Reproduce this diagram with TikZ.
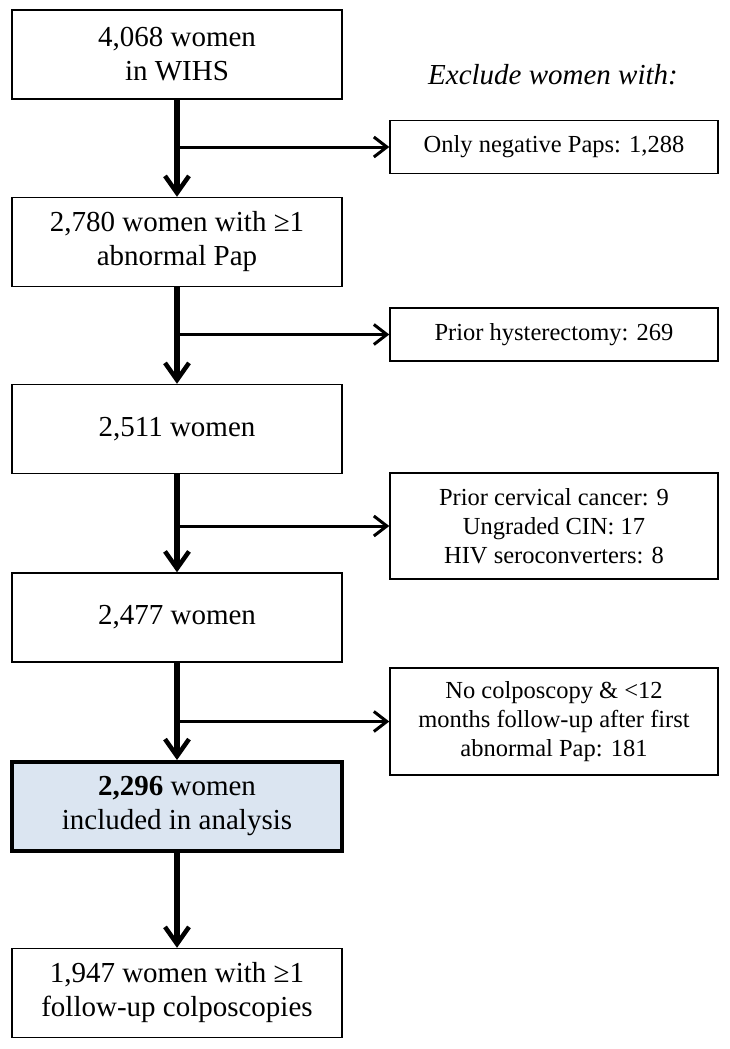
\documentclass[tikz,border=0pt]{standalone}
\usepackage{fontspec}
\setmainfont{Liberation Serif}
\usetikzlibrary{arrows.meta}
\definecolor{boxblue}{RGB}{219,229,241}
\tikzset{
  stage/.style={draw, rectangle, line width=1.4pt, align=center, minimum width=330pt, minimum height=89pt, inner sep=0pt, font=\fontsize{29}{34}\selectfont},
  excl/.style={draw, rectangle, line width=1.4pt, align=center, minimum width=328pt, inner sep=0pt, font=\fontsize{24.5}{29}\selectfont},
  down/.style={line width=5.5pt, -{Straight Barb[length=17pt,width=24pt,line width=4.5pt]}},
  side/.style={line width=3pt, -{Straight Barb[length=13pt,width=20pt,line width=3pt]}}
}
\begin{document}
\begin{tikzpicture}[x=1pt,y=-1pt]
\useasboundingbox (0,0) rectangle (730,1049);
\node[stage] (s1) at (177,54.5) {4,068 women\\in WIHS};
\node[stage] (s2) at (177,242) {2,780 women with ≥1\\abnormal Pap};
\node[stage] (s3) at (177,429) {2,511 women};
\node[stage] (s4) at (177,617.5) {2,477 women};
\node[stage, fill=boxblue, line width=4pt] (s5) at (177,806.5) {\textbf{2,296} women\\included in analysis};
\node[stage] (s6) at (177,993) {1,947 women with ≥1\\follow-up colposcopies};
\node[font=\fontsize{29}{34}\selectfont\itshape] (head) at (553,75) {Exclude women with:};
\node[excl, minimum height=53pt] (e1) at (554,147) {Only negative Paps: 1,288};
\node[excl, minimum height=53pt] (e2) at (554,334.5) {Prior hysterectomy: 269};
\node[excl, minimum height=106pt] (e3) at (554,526) {Prior cervical cancer: 9\\Ungraded CIN: 17\\HIV seroconverters: 8};
\node[excl, minimum height=107pt] (e4) at (554,721.5) {No colposcopy \& <12\\months follow-up after first\\abnormal Pap: 181};
% main flow
\draw[down] (s1) -- (s2);
\draw[down] (s2) -- (s3);
\draw[down] (s3) -- (s4);
\draw[down] (s4) -- (s5);
\draw[down] (s5) -- (s6);
% exclusions
\coordinate (j1) at (s1.south |- e1.west);
\coordinate (j2) at (s2.south |- e2.west);
\coordinate (j3) at (s3.south |- e3.west);
\coordinate (j4) at (s4.south |- e4.west);
\draw[side] (j1) -- (e1);
\draw[side] (j2) -- (e2);
\draw[side] (j3) -- (e3);
\draw[side] (j4) -- (e4);
\end{tikzpicture}
\end{document}
